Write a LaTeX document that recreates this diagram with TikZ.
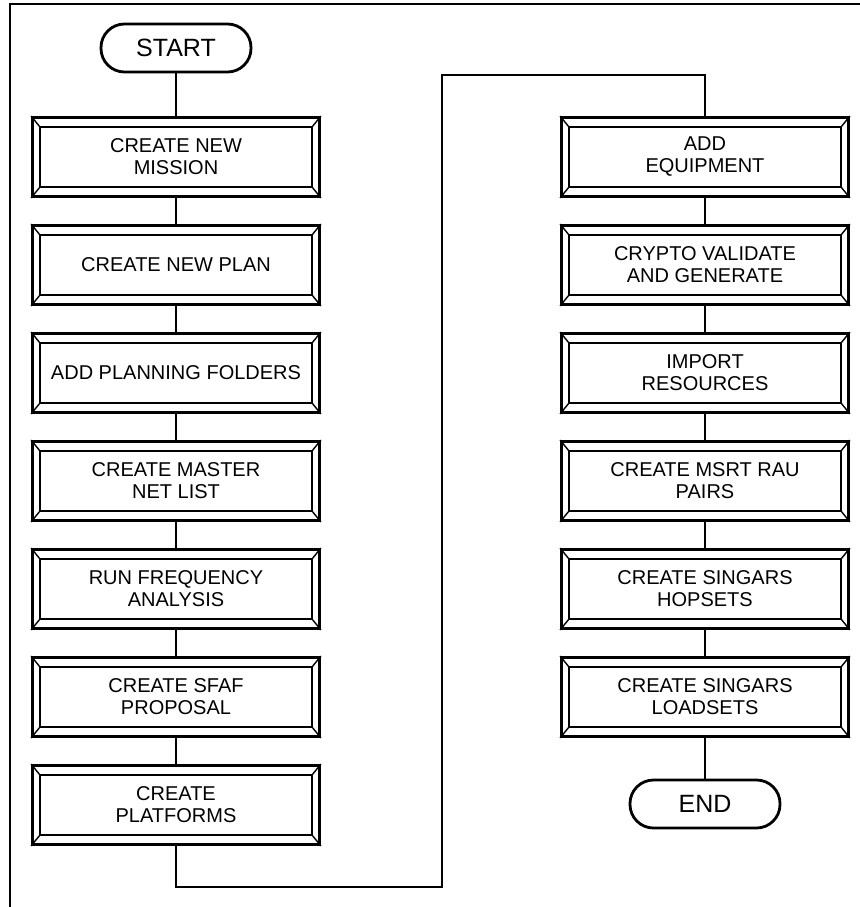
\documentclass[tikz,border=0pt]{standalone}
\usepackage{fontspec}
\setmainfont{Liberation Sans}
\begin{document}
\begin{tikzpicture}[x=1pt,y=-1pt,
  conn/.style={line width=2.8pt},
  stepbox/.style={draw, line width=2.8pt, rectangle, minimum width=287pt, minimum height=79pt,
    inner sep=0pt, align=center, font=\fontsize{20}{22}\selectfont},
  term/.style={draw, line width=2.8pt, rectangle, rounded corners=23.5pt, minimum width=150pt,
    minimum height=48pt, inner sep=0pt, font=\fontsize{25}{27}\selectfont},
  bevel/.style={line width=1.4pt},
  innerbox/.style={line width=2.5pt}]
\useasboundingbox (0,0) rectangle (859,907);
\draw[line width=2.8pt] (865,4) -- (10,4) -- (10,913);
\node[term] (start) at (176,48) {START};
\node[stepbox] (L1) at (176,157) {CREATE NEW\\MISSION};
\node[stepbox] (L2) at (176,265) {CREATE NEW PLAN};
\node[stepbox] (L3) at (176,373) {ADD PLANNING FOLDERS};
\node[stepbox] (L4) at (176,481) {CREATE MASTER\\NET LIST};
\node[stepbox] (L5) at (176,589) {RUN FREQUENCY\\ANALYSIS};
\node[stepbox] (L6) at (176,697) {CREATE SFAF\\PROPOSAL};
\node[stepbox] (L7) at (176,805) {CREATE\\PLATFORMS};
\node[stepbox] (R1) at (705,157) {ADD\\EQUIPMENT};
\node[stepbox] (R2) at (705,265) {CRYPTO VALIDATE\\AND GENERATE};
\node[stepbox] (R3) at (705,373) {IMPORT\\RESOURCES};
\node[stepbox] (R4) at (705,481) {CREATE MSRT RAU\\PAIRS};
\node[stepbox] (R5) at (705,589) {CREATE SINGARS\\HOPSETS};
\node[stepbox] (R6) at (705,697) {CREATE SINGARS\\LOADSETS};
\node[term] (end) at (705,804) {END};
\foreach \n in {L1,L2,L3,L4,L5,L6,L7,R1,R2,R3,R4,R5,R6}{
  \draw[innerbox] ([shift={(9,11)}]\n.north west) rectangle ([shift={(-9,-11)}]\n.south east);
  \draw[bevel] (\n.north west) -- ([shift={(9,11)}]\n.north west);
  \draw[bevel] (\n.north east) -- ([shift={(-9,11)}]\n.north east);
  \draw[bevel] (\n.south west) -- ([shift={(9,-11)}]\n.south west);
  \draw[bevel] (\n.south east) -- ([shift={(-9,-11)}]\n.south east);
}
\draw[conn] (start) -- (L1);
\draw[conn] (L1) -- (L2);
\draw[conn] (L2) -- (L3);
\draw[conn] (L3) -- (L4);
\draw[conn] (L4) -- (L5);
\draw[conn] (L5) -- (L6);
\draw[conn] (L6) -- (L7);
\coordinate (c1) at (442,887);
\coordinate (c2) at (442,75);
\draw[conn] (L7.south) |- (c1) -- (c2) -| (R1.north);
\draw[conn] (R1) -- (R2);
\draw[conn] (R2) -- (R3);
\draw[conn] (R3) -- (R4);
\draw[conn] (R4) -- (R5);
\draw[conn] (R5) -- (R6);
\draw[conn] (R6) -- (end);
\end{tikzpicture}
\end{document}
